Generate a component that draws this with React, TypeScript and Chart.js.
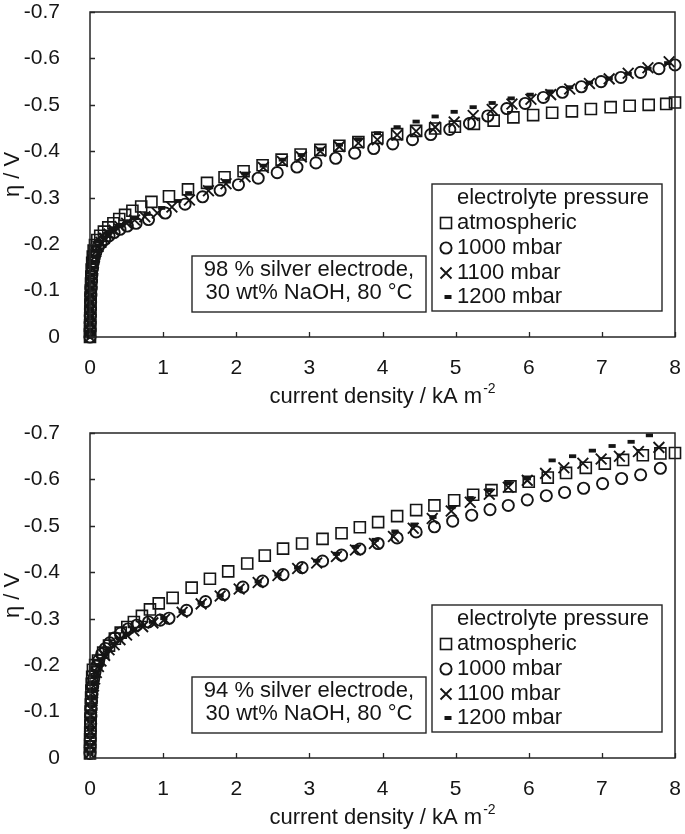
import React, { useEffect, useRef } from "react";
import { Chart, registerables } from "chart.js";

Chart.register(...registerables);

// ---------- tick values / labels / texts ----------
const xTickValues = [0, 1, 2, 3, 4, 5, 6, 7, 8];
const xTickLabels = ["0", "1", "2", "3", "4", "5", "6", "7", "8"];
const yTickValues = [0, -0.1, -0.2, -0.3, -0.4, -0.5, -0.6, -0.7];
const yTickLabels = ["0", "-0.1", "-0.2", "-0.3", "-0.4", "-0.5", "-0.6", "-0.7"];
const seriesNames = ["atmospheric", "1000 mbar", "1100 mbar", "1200 mbar"];
const legendTitle = "electrolyte pressure";
const xAxisTitle = "current density / kA m";
const xAxisTitleSup = "-2";
const yAxisTitle = "η / V";
const note98 = ["98 % silver electrode,", "30 wt% NaOH, 80 °C"];
const note94 = ["94 % silver electrode,", "30 wt% NaOH, 80 °C"];

// ---------- data: 98 % silver electrode [current density kA/m², η V] ----------
const ag98Atmospheric = [
  [0, 0], [0.001, -0.012], [0.002, -0.025], [0.003, -0.04], [0.004, -0.055], [0.006, -0.07],
  [0.008, -0.085], [0.011, -0.1], [0.014, -0.115], [0.018, -0.13], [0.023, -0.145], [0.03, -0.16],
  [0.038, -0.173], [0.05, -0.186], [0.068, -0.198], [0.1, -0.209], [0.14, -0.218], [0.19, -0.227],
  [0.25, -0.236], [0.32, -0.245], [0.4, -0.254], [0.48, -0.263], [0.58, -0.272], [0.7, -0.281],
  [0.84, -0.291], [1.08, -0.303], [1.34, -0.318], [1.6, -0.332], [1.84, -0.344], [2.1, -0.357],
  [2.36, -0.37], [2.62, -0.382], [2.88, -0.393], [3.15, -0.403], [3.41, -0.412], [3.67, -0.42],
  [3.93, -0.429], [4.2, -0.437], [4.46, -0.444], [4.72, -0.449], [4.99, -0.453], [5.25, -0.459],
  [5.52, -0.466], [5.79, -0.473], [6.06, -0.478], [6.32, -0.483], [6.59, -0.486], [6.85, -0.491],
  [7.12, -0.495], [7.38, -0.498], [7.64, -0.5], [7.88, -0.502], [8.0, -0.505],
];
const ag98p1000 = [
  [0, 0], [0.001, -0.015], [0.002, -0.03], [0.004, -0.045], [0.006, -0.06], [0.008, -0.075],
  [0.011, -0.09], [0.015, -0.105], [0.02, -0.12], [0.026, -0.134], [0.034, -0.147], [0.045, -0.16],
  [0.06, -0.172], [0.08, -0.183], [0.11, -0.193], [0.15, -0.202], [0.2, -0.21], [0.26, -0.218],
  [0.33, -0.225], [0.41, -0.232], [0.51, -0.239], [0.63, -0.245], [0.8, -0.253], [1.03, -0.267],
  [1.3, -0.286], [1.54, -0.302], [1.78, -0.316], [2.03, -0.328], [2.3, -0.342], [2.56, -0.354],
  [2.83, -0.366], [3.09, -0.375], [3.36, -0.385], [3.62, -0.396], [3.88, -0.406], [4.14, -0.416],
  [4.41, -0.425], [4.66, -0.436], [4.92, -0.447], [5.19, -0.46], [5.44, -0.476], [5.7, -0.492],
  [5.95, -0.503], [6.2, -0.516], [6.46, -0.527], [6.72, -0.539], [6.99, -0.55], [7.26, -0.559],
  [7.53, -0.57], [7.78, -0.578], [8.0, -0.586],
];
const ag98p1100 = [
  [0, 0], [0.002, -0.012], [0.004, -0.028], [0.006, -0.043], [0.008, -0.058], [0.011, -0.073],
  [0.014, -0.088], [0.018, -0.103], [0.023, -0.118], [0.029, -0.133], [0.036, -0.147], [0.046, -0.16],
  [0.06, -0.172], [0.08, -0.184], [0.11, -0.195], [0.15, -0.204], [0.2, -0.213], [0.26, -0.222],
  [0.33, -0.23], [0.41, -0.238], [0.5, -0.245], [0.61, -0.252], [0.75, -0.259], [0.92, -0.267],
  [1.12, -0.28], [1.36, -0.295], [1.62, -0.315], [1.86, -0.33], [2.12, -0.345], [2.37, -0.365],
  [2.63, -0.378], [2.89, -0.388], [3.15, -0.4], [3.41, -0.41], [3.67, -0.418], [3.93, -0.425],
  [4.2, -0.435], [4.46, -0.443], [4.72, -0.452], [4.98, -0.463], [5.24, -0.477], [5.5, -0.49],
  [5.77, -0.502], [6.03, -0.512], [6.3, -0.522], [6.56, -0.534], [6.83, -0.546], [7.1, -0.556],
  [7.36, -0.568], [7.63, -0.58], [7.92, -0.593],
];
const ag98p1200 = [
  [0, 0], [0.001, -0.013], [0.003, -0.03], [0.005, -0.045], [0.007, -0.06], [0.01, -0.075],
  [0.013, -0.09], [0.017, -0.105], [0.022, -0.12], [0.028, -0.135], [0.035, -0.149], [0.045, -0.162],
  [0.058, -0.174], [0.078, -0.186], [0.105, -0.197], [0.145, -0.206], [0.195, -0.215], [0.255, -0.224],
  [0.325, -0.232], [0.405, -0.24], [0.5, -0.248], [0.62, -0.256], [0.78, -0.265], [0.98, -0.278],
  [1.2, -0.293], [1.35, -0.31], [1.62, -0.322], [1.86, -0.336], [2.12, -0.352], [2.37, -0.369],
  [2.63, -0.382], [2.89, -0.392], [3.15, -0.404], [3.41, -0.414], [3.67, -0.426], [3.93, -0.439],
  [4.2, -0.452], [4.46, -0.464], [4.72, -0.475], [4.98, -0.485], [5.24, -0.495], [5.5, -0.504],
  [5.76, -0.514], [6.02, -0.522], [6.29, -0.529], [6.56, -0.538], [6.83, -0.548], [7.1, -0.557],
  [7.36, -0.567], [7.63, -0.578], [7.9, -0.59],
];

// ---------- data: 94 % silver electrode ----------
const ag94Atmospheric = [
  [0, -0.01], [0.001, -0.025], [0.002, -0.04], [0.003, -0.055], [0.005, -0.07], [0.007, -0.085],
  [0.009, -0.1], [0.012, -0.115], [0.015, -0.13], [0.019, -0.145], [0.024, -0.16], [0.03, -0.175],
  [0.04, -0.19], [0.07, -0.2], [0.11, -0.21], [0.18, -0.227], [0.26, -0.242], [0.34, -0.257],
  [0.42, -0.27], [0.51, -0.282], [0.6, -0.293], [0.71, -0.306], [0.82, -0.32], [0.94, -0.333],
  [1.13, -0.345], [1.39, -0.367], [1.64, -0.386], [1.89, -0.402], [2.15, -0.419], [2.39, -0.436],
  [2.64, -0.451], [2.9, -0.462], [3.18, -0.472], [3.44, -0.484], [3.69, -0.497], [3.94, -0.508],
  [4.2, -0.521], [4.46, -0.534], [4.71, -0.544], [4.98, -0.555], [5.24, -0.567], [5.49, -0.577],
  [5.75, -0.585], [6.0, -0.595], [6.26, -0.604], [6.51, -0.614], [6.78, -0.625], [7.04, -0.634],
  [7.29, -0.642], [7.56, -0.652], [7.8, -0.656], [8.0, -0.657],
];
const ag94p1000 = [
  [0, -0.01], [0.002, -0.025], [0.004, -0.04], [0.006, -0.057], [0.009, -0.074], [0.012, -0.09],
  [0.016, -0.106], [0.021, -0.122], [0.028, -0.138], [0.037, -0.154], [0.05, -0.17], [0.068, -0.185],
  [0.09, -0.198], [0.12, -0.211], [0.16, -0.224], [0.21, -0.236], [0.27, -0.248], [0.34, -0.259],
  [0.42, -0.269], [0.52, -0.278], [0.64, -0.286], [0.8, -0.293], [0.96, -0.297], [1.08, -0.301],
  [1.32, -0.318], [1.58, -0.337], [1.83, -0.352], [2.09, -0.368], [2.36, -0.381], [2.64, -0.395],
  [2.9, -0.41], [3.18, -0.424], [3.44, -0.437], [3.69, -0.45], [3.94, -0.462], [4.2, -0.474],
  [4.46, -0.487], [4.71, -0.498], [4.96, -0.51], [5.22, -0.523], [5.47, -0.535], [5.72, -0.544],
  [5.98, -0.556], [6.24, -0.565], [6.49, -0.572], [6.75, -0.581], [7.01, -0.591], [7.27, -0.602],
  [7.53, -0.61], [7.8, -0.624],
];
const ag94p1100 = [
  [0, -0.01], [0.003, -0.025], [0.005, -0.04], [0.008, -0.058], [0.011, -0.075], [0.015, -0.092],
  [0.02, -0.108], [0.027, -0.124], [0.036, -0.14], [0.048, -0.155], [0.064, -0.17], [0.086, -0.184],
  [0.115, -0.197], [0.15, -0.209], [0.2, -0.221], [0.26, -0.233], [0.33, -0.244], [0.41, -0.255],
  [0.5, -0.265], [0.6, -0.274], [0.72, -0.283], [0.86, -0.291], [1.02, -0.299], [1.26, -0.314],
  [1.52, -0.332], [1.78, -0.349], [2.04, -0.364], [2.3, -0.378], [2.57, -0.393], [2.84, -0.408],
  [3.1, -0.42], [3.37, -0.434], [3.63, -0.448], [3.89, -0.462], [4.15, -0.477], [4.42, -0.495],
  [4.68, -0.516], [4.94, -0.532], [5.2, -0.551], [5.46, -0.568], [5.72, -0.583], [5.98, -0.598],
  [6.23, -0.613], [6.48, -0.625], [6.74, -0.635], [6.99, -0.644], [7.24, -0.65], [7.5, -0.66],
  [7.78, -0.669],
];
const ag94p1200 = [
  [0, -0.01], [0.002, -0.028], [0.004, -0.045], [0.007, -0.062], [0.01, -0.079], [0.014, -0.096],
  [0.019, -0.112], [0.026, -0.128], [0.035, -0.144], [0.047, -0.159], [0.063, -0.174], [0.085, -0.187],
  [0.113, -0.2], [0.148, -0.212], [0.195, -0.224], [0.255, -0.235], [0.325, -0.246], [0.405, -0.257],
  [0.495, -0.267], [0.595, -0.276], [0.715, -0.285], [0.855, -0.293], [1.01, -0.301], [1.26, -0.316],
  [1.52, -0.334], [1.78, -0.35], [2.04, -0.365], [2.3, -0.38], [2.57, -0.395], [2.84, -0.41],
  [3.1, -0.425], [3.37, -0.44], [3.63, -0.455], [3.9, -0.47], [4.17, -0.488], [4.43, -0.503],
  [4.69, -0.519], [4.95, -0.54], [5.2, -0.56], [5.46, -0.577], [5.72, -0.592], [5.98, -0.602],
  [6.32, -0.641], [6.6, -0.65], [6.87, -0.662], [7.14, -0.672], [7.4, -0.681], [7.65, -0.695],
];

// ---------- styling ----------
const FONT = "'Liberation Sans', Arial, Helvetica, sans-serif";
const INK = "#151515";
const FRAME = "#262626";

type Pt = number[];

function drawMarker(ctx: CanvasRenderingContext2D, kind: number, x: number, y: number) {
  ctx.save();
  ctx.strokeStyle = INK;
  ctx.fillStyle = INK;
  if (kind === 0) {
    ctx.lineWidth = 1.6;
    ctx.strokeRect(x - 5.5, y - 5.5, 11, 11);
  } else if (kind === 1) {
    ctx.lineWidth = 1.9;
    ctx.beginPath();
    ctx.arc(x, y, 5.6, 0, Math.PI * 2);
    ctx.stroke();
  } else if (kind === 2) {
    ctx.lineWidth = 1.9;
    ctx.beginPath();
    ctx.moveTo(x - 5.5, y - 5.5);
    ctx.lineTo(x + 5.5, y + 5.5);
    ctx.moveTo(x + 5.5, y - 5.5);
    ctx.lineTo(x - 5.5, y + 5.5);
    ctx.stroke();
  } else {
    ctx.fillRect(x - 1.5, y - 2, 7, 4);
  }
  ctx.restore();
}

const decorPlugin = {
  id: "decor",
  afterDatasetsDraw(chart: any, _args: any, opts: any) {
    const { ctx, chartArea: a, scales } = chart;
    ctx.save();
    // frame
    ctx.strokeStyle = FRAME;
    ctx.lineWidth = 1.5;
    ctx.strokeRect(a.left, a.top, a.right - a.left, a.bottom - a.top);
    // inside tick marks
    ctx.beginPath();
    for (const v of xTickValues) {
      const px = Math.round(scales.x.getPixelForValue(v)) + 0.5;
      ctx.moveTo(px, a.bottom);
      ctx.lineTo(px, a.bottom - 5);
    }
    for (const v of yTickValues) {
      const py = Math.round(scales.y.getPixelForValue(v)) + 0.5;
      ctx.moveTo(a.left, py);
      ctx.lineTo(a.left + 5, py);
    }
    ctx.lineWidth = 1.3;
    ctx.stroke();

    // note box
    const note: string[] = opts.note;
    const nx = a.left + 102, ny = a.top + 244, nw = 234, nh = 56;
    ctx.fillStyle = "#fff";
    ctx.fillRect(nx, ny, nw, nh);
    ctx.strokeStyle = FRAME;
    ctx.lineWidth = 1.4;
    ctx.strokeRect(nx, ny, nw, nh);
    ctx.fillStyle = INK;
    ctx.font = `22px ${FONT}`;
    ctx.textAlign = "center";
    ctx.textBaseline = "middle";
    ctx.fillText(note[0], nx + nw / 2, ny + 14);
    ctx.fillText(note[1], nx + nw / 2, ny + 37);

    // legend box
    const lx = a.left + 342, ly = a.top + 172, lw = 230, lh = 127;
    ctx.fillStyle = "#fff";
    ctx.fillRect(lx, ly, lw, lh);
    ctx.strokeRect(lx, ly, lw, lh);
    ctx.fillStyle = INK;
    ctx.textAlign = "left";
    ctx.fillText(legendTitle, lx + 25, ly + 14);
    const rows = [39, 64, 89, 113];
    seriesNames.forEach((name, i) => {
      drawMarker(ctx, i, lx + 14, ly + rows[i]);
      ctx.fillStyle = INK;
      ctx.fillText(name, lx + 25, ly + rows[i]);
    });

    // x axis title with superscript
    ctx.font = `22px ${FONT}`;
    const mainW = ctx.measureText(xAxisTitle).width;
    ctx.font = `14px ${FONT}`;
    const supW = ctx.measureText(xAxisTitleSup).width;
    const cx = (a.left + a.right) / 2;
    const startX = cx - (mainW + supW + 1) / 2;
    const ty = a.bottom + 60;
    ctx.font = `22px ${FONT}`;
    ctx.fillText(xAxisTitle, startX, ty);
    ctx.font = `14px ${FONT}`;
    ctx.fillText(xAxisTitleSup, startX + mainW + 1, ty - 8);
    ctx.restore();
  },
};

type PanelSpec = {
  series: Pt[][];
  note: string[];
  padTop: number;
  padBottom: number;
};

const styles = [
  { pointStyle: "rect", pointRadius: 7.8, pointBorderWidth: 1.6 },
  { pointStyle: "circle", pointRadius: 5.6, pointBorderWidth: 1.9 },
  { pointStyle: "crossRot", pointRadius: 7.6, pointBorderWidth: 1.9 },
  { pointStyle: "line", pointRadius: 3.6, pointBorderWidth: 3.8 },
];

function Panel({ spec }: { spec: PanelSpec }) {
  const ref = useRef<HTMLCanvasElement>(null);
  useEffect(() => {
    const canvas = ref.current;
    if (!canvas) return;
    const datasets = spec.series.map((pts, i) => ({
      label: seriesNames[i],
      data: pts.map((p) => ({ x: p[0], y: p[1] })),
      showLine: false,
      clip: false,
      pointStyle: styles[i].pointStyle,
      pointRadius: styles[i].pointRadius,
      pointHoverRadius: styles[i].pointRadius,
      pointBorderWidth: styles[i].pointBorderWidth,
      borderWidth: styles[i].pointBorderWidth,
      pointBorderColor: INK,
      borderColor: INK,
      pointBackgroundColor: "rgba(0,0,0,0)",
      backgroundColor: "rgba(0,0,0,0)",
    }));
    const chart = new Chart(canvas, {
      type: "scatter",
      data: { datasets },
      plugins: [decorPlugin],
      options: {
        animation: false,
        responsive: false,
        maintainAspectRatio: false,
        events: [],
        layout: {
          autoPadding: false,
          padding: { top: spec.padTop, right: 10, bottom: spec.padBottom, left: 0 },
        },
        plugins: {
          legend: { display: false },
          tooltip: { enabled: false },
          decor: { note: spec.note },
        } as any,
        scales: {
          x: {
            type: "linear",
            min: 0,
            max: 8,
            grid: { display: false },
            border: { display: false },
            ticks: {
              autoSkip: false,
              padding: 11,
              color: INK,
              font: { family: FONT, size: 21 },
              callback: (_v: any, i: number) => xTickLabels[i],
            },
            afterBuildTicks: (s: any) => {
              s.ticks = xTickValues.map((v) => ({ value: v }));
            },
            afterFit: (s: any) => {
              s.height = 71;
              s.paddingLeft = 0;
              s.paddingRight = 0;
            },
          },
          y: {
            type: "linear",
            min: -0.7,
            max: 0,
            reverse: true,
            grid: { display: false },
            border: { display: false },
            title: {
              display: true,
              text: yAxisTitle,
              color: INK,
              font: { family: FONT, size: 22 },
              padding: { top: 0, bottom: 0 },
            },
            ticks: {
              autoSkip: false,
              padding: 22,
              color: INK,
              font: { family: FONT, size: 21 },
              callback: (_v: any, i: number) => yTickLabels[i],
            },
            afterBuildTicks: (s: any) => {
              s.ticks = yTickValues.map((v) => ({ value: v }));
            },
            afterFit: (s: any) => {
              s.width = 90;
              s.paddingTop = 0;
              s.paddingBottom = 0;
            },
          },
        },
      } as any,
    });
    return () => chart.destroy();
  }, [spec]);
  return (
    <canvas
      ref={ref}
      width={685}
      height={417}
      style={{ display: "block", width: 685, height: 417 }}
    />
  );
}

const panel98: PanelSpec = {
  series: [ag98Atmospheric, ag98p1000, ag98p1100, ag98p1200],
  note: note98,
  padTop: 12,
  padBottom: 9,
};
const panel94: PanelSpec = {
  series: [ag94Atmospheric, ag94p1000, ag94p1100, ag94p1200],
  note: note94,
  padTop: 16,
  padBottom: 5,
};

export default function App() {
  return (
    <div
      style={{
        position: "fixed",
        left: 0,
        top: 0,
        width: 685,
        height: 834,
        background: "#fff",
      }}
    >
      <Panel spec={panel98} />
      <Panel spec={panel94} />
    </div>
  );
}
